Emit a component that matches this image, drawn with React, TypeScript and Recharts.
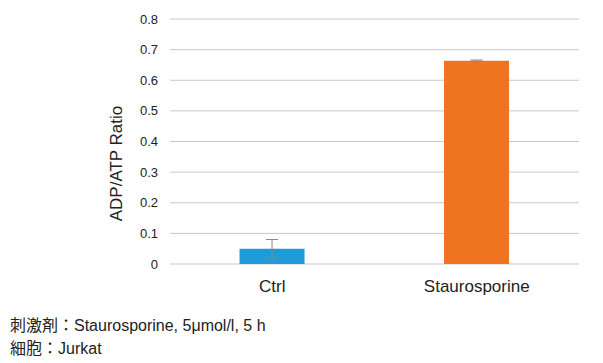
import { BarChart, Bar, XAxis, YAxis, CartesianGrid, ErrorBar, Cell } from "recharts";

const categories = ["Ctrl", "Staurosporine"];
const ratios = [0.05, 0.664];
const errors = [0.03, 0.002];
const barColors = ["#1f9bd7", "#f07320"];
const yTicks = [0, 0.1, 0.2, 0.3, 0.4, 0.5, 0.6, 0.7, 0.8];
const notes = ["刺激剤：Staurosporine, 5μmol/l, 5 h", "細胞：Jurkat"];

const data = categories.map((name, i) => ({
  name,
  ratio: ratios[i],
  err: errors[i],
}));

const font = "'Liberation Sans', Arial, 'Noto Sans CJK JP', sans-serif";

function YLabel({ viewBox }: any) {
  const x = viewBox.x + viewBox.width / 2 - 2;
  const y = viewBox.y + viewBox.height / 2 + 22;
  return (
    <text
      x={x}
      y={y}
      transform={`rotate(-90, ${x}, ${y})`}
      textAnchor="middle"
      dominantBaseline="central"
      fontSize={17}
      fill="#222"
      fontFamily={font}
    >
      ADP/ATP Ratio
    </text>
  );
}

export default function App() {
  return (
    <div
      style={{
        position: "absolute",
        left: 0,
        top: 0,
        width: 603,
        height: 363,
        background: "#fff",
        fontFamily: font,
      }}
    >
      <BarChart
        width={603}
        height={300}
        data={data}
        margin={{ top: 19, right: 24, bottom: 6, left: 66 }}
        barCategoryGap="34%"
      >
        <CartesianGrid vertical={false} stroke="#c8c8c8" />
        <XAxis
          dataKey="name"
          axisLine={false}
          tickLine={false}
          height={30}
          tick={{ fontSize: 17, fill: "#222", fontFamily: font }}
          tickMargin={10}
        />
        <YAxis
          width={104}
          domain={[0, 0.8]}
          ticks={yTicks}
          tickFormatter={(v: number) => (v === 0 ? "0" : v.toFixed(1))}
          axisLine={false}
          tickLine={false}
          tickSize={0}
          tickMargin={12}
          tick={{ fontSize: 13, fill: "#222", fontFamily: font }}
          label={{ content: YLabel }}
        />
        <Bar dataKey="ratio" isAnimationActive={false}>
          {data.map((d, i) => (
            <Cell key={d.name} fill={barColors[i]} />
          ))}
          <ErrorBar dataKey="err" width={6} stroke="#888" strokeWidth={1} isAnimationActive={false} />
        </Bar>
      </BarChart>
      {notes.map((t, i) => (
        <div
          key={t}
          style={{
            position: "absolute",
            left: 10,
            top: 316 + i * 23,
            fontSize: 16,
            lineHeight: "20px",
            color: "#222",
            whiteSpace: "nowrap",
          }}
        >
          {t}
        </div>
      ))}
    </div>
  );
}
